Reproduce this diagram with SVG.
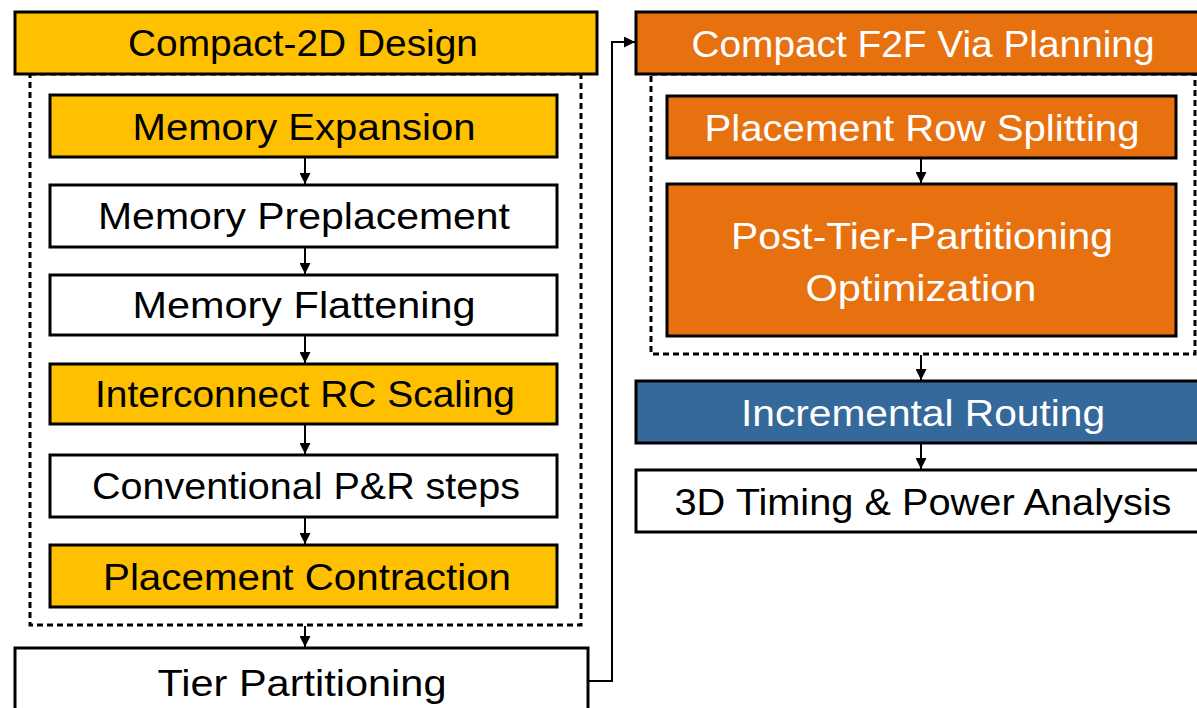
<svg xmlns="http://www.w3.org/2000/svg" width="1197" height="708" viewBox="0 0 1197 708">
<defs>
<marker id="ah" viewBox="0 0 10 10" refX="10" refY="5" markerWidth="5.5" markerHeight="5.5" orient="auto" markerUnits="strokeWidth">
<path d="M0,0 L10,5 L0,10 Z" fill="#000"/>
</marker>
<style>
.box{stroke:#000;stroke-width:3}
.y{fill:#FFC000}
.w{fill:#FFFFFF}
.o{fill:#E8710F}
.b{fill:#35699B}
.dash{fill:none;stroke:#000;stroke-width:3;stroke-dasharray:6 4}
text{font-family:"Liberation Sans",Arial,sans-serif;font-size:37px;text-anchor:middle}
.tw{fill:#fff}
.tk{fill:#000}
.c{fill:none;stroke:#000;stroke-width:2}
</style>
</defs>
<rect class="dash" x="30" y="74" width="551" height="551"/>
<rect class="dash" x="651" y="74" width="544" height="280"/>
<g id="compact2d"><rect class="box y" x="15" y="12" width="582" height="62"/><text class="tk" x="303" y="56" textLength="350" lengthAdjust="spacingAndGlyphs">Compact-2D Design</text></g>
<g id="memexp"><rect class="box y" x="50" y="95" width="507" height="62"/><text class="tk" x="304" y="140" textLength="343" lengthAdjust="spacingAndGlyphs">Memory Expansion</text></g>
<g id="mempre"><rect class="box w" x="50" y="185" width="507" height="62"/><text class="tk" x="304" y="229" textLength="412" lengthAdjust="spacingAndGlyphs">Memory Preplacement</text></g>
<g id="memflat"><rect class="box w" x="50" y="275" width="507" height="60"/><text class="tk" x="304" y="318" textLength="343" lengthAdjust="spacingAndGlyphs">Memory Flattening</text></g>
<g id="rcscale"><rect class="box y" x="50" y="364" width="507" height="60"/><text class="tk" x="305" y="407" textLength="420" lengthAdjust="spacingAndGlyphs">Interconnect RC Scaling</text></g>
<g id="conv"><rect class="box w" x="50" y="455" width="507" height="62"/><text class="tk" x="306" y="499" textLength="428" lengthAdjust="spacingAndGlyphs">Conventional P&amp;R steps</text></g>
<g id="contract"><rect class="box y" x="50" y="545" width="507" height="62"/><text class="tk" x="307" y="590" textLength="408" lengthAdjust="spacingAndGlyphs">Placement Contraction</text></g>
<g id="tier"><rect class="box w" x="15" y="648" width="573" height="70"/><text class="tk" x="302" y="696" textLength="289" lengthAdjust="spacingAndGlyphs">Tier Partitioning</text></g>
<g id="f2f"><rect class="box o" x="636" y="12" width="570" height="62"/><text class="tw" x="923" y="57" textLength="463" lengthAdjust="spacingAndGlyphs">Compact F2F Via Planning</text></g>
<g id="rowsplit"><rect class="box o" x="667" y="96" width="509" height="62"/><text class="tw" x="922" y="141" textLength="435" lengthAdjust="spacingAndGlyphs">Placement Row Splitting</text></g>
<g id="posttier"><rect class="box o" x="667" y="184" width="509" height="152"/><text class="tw" x="922" y="249" textLength="382" lengthAdjust="spacingAndGlyphs">Post-Tier-Partitioning</text><text class="tw" x="921" y="301" textLength="231" lengthAdjust="spacingAndGlyphs">Optimization</text></g>
<g id="incroute"><rect class="box b" x="636" y="381" width="570" height="62"/><text class="tw" x="923" y="426" textLength="364" lengthAdjust="spacingAndGlyphs">Incremental Routing</text></g>
<g id="analysis"><rect class="box w" x="636" y="470" width="570" height="62"/><text class="tk" x="923" y="515" textLength="497" lengthAdjust="spacingAndGlyphs">3D Timing &amp; Power Analysis</text></g>
<g id="connectors">
<line class="c" x1="305" y1="158" x2="305" y2="184" marker-end="url(#ah)"/>
<line class="c" x1="305" y1="248" x2="305" y2="274" marker-end="url(#ah)"/>
<line class="c" x1="305" y1="336" x2="305" y2="363" marker-end="url(#ah)"/>
<line class="c" x1="305" y1="425" x2="305" y2="454" marker-end="url(#ah)"/>
<line class="c" x1="305" y1="518" x2="305" y2="544" marker-end="url(#ah)"/>
<line class="c" x1="305" y1="626" x2="305" y2="647" marker-end="url(#ah)"/>
<polyline class="c" points="589,681 612,681 612,42 635,42" marker-end="url(#ah)"/>
<line class="c" x1="921" y1="159" x2="921" y2="183" marker-end="url(#ah)"/>
<line class="c" x1="921" y1="355" x2="921" y2="380" marker-end="url(#ah)"/>
<line class="c" x1="921" y1="444" x2="921" y2="469" marker-end="url(#ah)"/>
</g>
</svg>
